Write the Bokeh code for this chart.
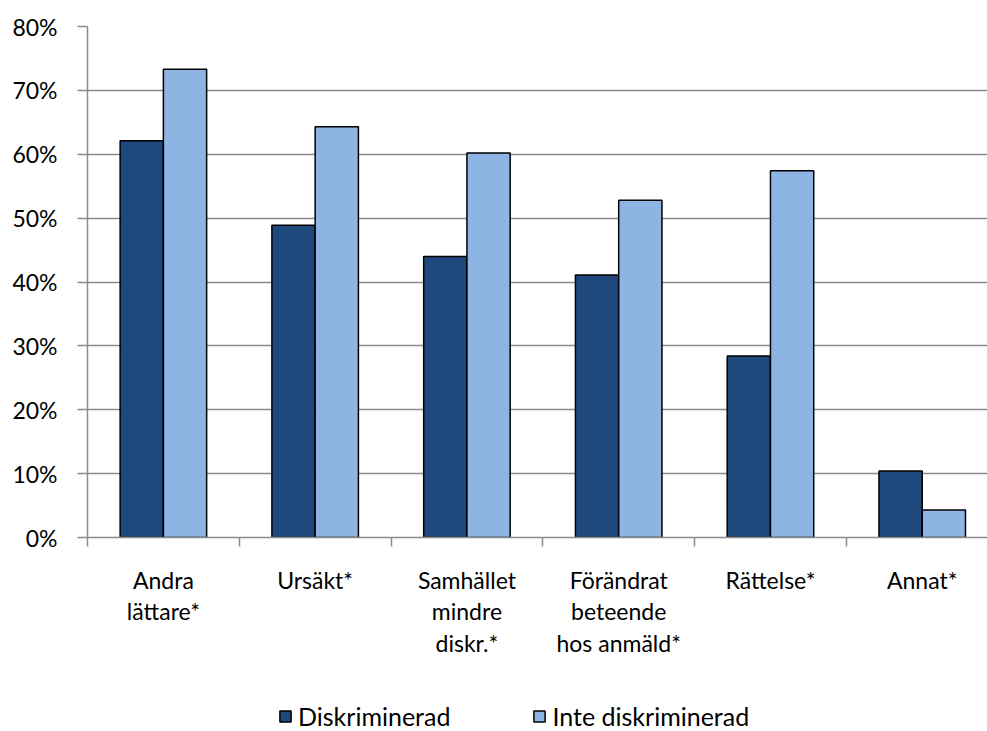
from bokeh.plotting import figure
from bokeh.layouts import column
from bokeh.models import (Range1d, FixedTicker, PrintfTickFormatter, Legend, LegendItem,
                          ColumnDataSource)
from bokeh.embed import file_html
from bokeh.resources import INLINE

categories = ["Andra\nlättare*", "Ursäkt*", "Samhället\nmindre\ndiskr.*",
              "Förändrat\nbeteende\nhos anmäld*", "Rättelse*", "Annat*"]
diskriminerad = [62.1, 48.9, 44.0, 41.1, 28.4, 10.4]
inte_diskriminerad = [73.3, 64.3, 60.2, 52.8, 57.4, 4.3]
series_names = ["Diskriminerad", "Inte diskriminerad"]
y_ticks = [0, 10, 20, 30, 40, 50, 60, 70, 80]

FONT = "Lato"
GRAY = "#8A8A8A"
DARK = "#1F497D"
LIGHT = "#8EB4E3"
BAR_W = 0.285

centers = [i + 0.5 for i in range(len(categories))]
boundaries = [float(i) for i in range(len(categories) + 1)]

src = ColumnDataSource(dict(
    xd=[c - BAR_W / 2 for c in centers],
    xi=[c + BAR_W / 2 for c in centers],
    d=diskriminerad,
    n=inte_diskriminerad,
))

p = figure(frame_width=900, frame_height=511, output_backend="svg", toolbar_location=None,
           x_range=Range1d(0, 5.93), y_range=Range1d(0, 80))
p.min_border_left = 87
p.min_border_right = 0
p.min_border_top = 26
p.min_border_bottom = 150
p.outline_line_color = None
p.background_fill_color = "white"
p.border_fill_color = "white"

bar_style = dict(bottom=0, width=BAR_W, line_color="black", line_width=1.5)
p.vbar(x="xd", top="d", source=src, fill_color=DARK, **bar_style)
p.vbar(x="xi", top="n", source=src, fill_color=LIGHT, **bar_style)

# grid
p.xgrid.visible = False
p.ygrid.ticker = FixedTicker(ticks=y_ticks)
p.ygrid.grid_line_color = GRAY
p.ygrid.grid_line_width = 1.5
p.ygrid.level = "underlay"

# y axis
ya = p.yaxis[0]
ya.ticker = FixedTicker(ticks=y_ticks)
ya.formatter = PrintfTickFormatter(format="%d%%")
ya.axis_line_color = GRAY
ya.axis_line_width = 1.5
ya.major_tick_line_color = GRAY
ya.major_tick_line_width = 1.5
ya.major_tick_out = 10
ya.major_tick_in = 0
ya.minor_tick_line_color = None
ya.major_label_standoff = 20
ya.major_label_text_font = FONT
ya.major_label_text_font_size = "23px"
ya.major_label_text_color = "black"

# x axis
xa = p.xaxis[0]
xa.ticker = FixedTicker(ticks=centers, minor_ticks=boundaries)
xa.major_label_overrides = {c: lab for c, lab in zip(centers, categories)}
xa.axis_line_color = GRAY
xa.axis_line_width = 1.5
xa.major_tick_line_color = None
xa.major_tick_out = 0
xa.major_tick_in = 0
xa.minor_tick_line_color = GRAY
xa.minor_tick_line_width = 1.5
xa.minor_tick_out = 9
xa.minor_tick_in = 0
xa.major_label_standoff = 19
xa.major_label_text_font = FONT
xa.major_label_text_font_size = "23px"
xa.major_label_text_color = "black"
xa.major_label_text_line_height = 1.14

# legend strip (separate figure so the legend is not clipped by the chart frame)
lg = figure(width=987, height=56, output_backend="svg", toolbar_location=None,
            x_axis_type=None, y_axis_type=None,
            x_range=Range1d(0, 1), y_range=Range1d(1000, 1001))
lg.min_border_left = 0
lg.min_border_right = 0
lg.min_border_top = 0
lg.min_border_bottom = 0
lg.outline_line_color = None
lg.xgrid.visible = False
lg.ygrid.visible = False
k1 = lg.vbar(x="xd", top="d", source=src, fill_color=DARK, **bar_style)
k2 = lg.vbar(x="xi", top="n", source=src, fill_color=LIGHT, **bar_style)

legend = Legend(items=[LegendItem(label=series_names[0], renderers=[k1]),
                       LegendItem(label=series_names[1], renderers=[k2])],
                orientation="horizontal", location=(191, 12),
                label_text_font=FONT, label_text_font_size="25px",
                label_text_color="black", label_height=26,
                glyph_width=14, glyph_height=14, label_standoff=6,
                spacing=82, padding=0, margin=0,
                border_line_color=None, background_fill_alpha=0)
lg.add_layout(legend, "center")

layout = column(p, lg, spacing=0)
open("out.html", "w").write(file_html(layout, INLINE))
